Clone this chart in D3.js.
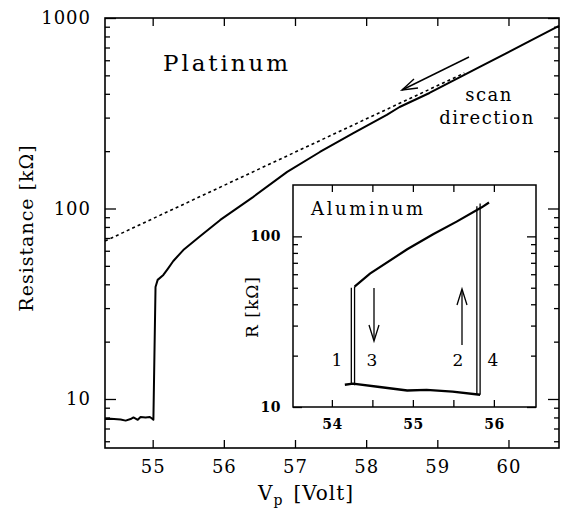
<!DOCTYPE html>
<html>
<head>
<meta charset="utf-8">
<script src="https://cdn.jsdelivr.net/npm/d3@7"></script>
<style>
  body { margin: 0; background: #fff; }
  text { font-family: "DejaVu Serif", serif; fill: #000; }
</style>
</head>
<body>
<div id="chart"></div>
<script>
// Platinum sweep: probe voltage [V] and resistance [kOhm]
const ptVolt = [54.33, 54.41, 54.55, 54.62, 54.69, 54.73, 54.79, 54.83, 54.90, 54.96, 54.99, 55.01,
                55.04, 55.07, 55.15, 55.21, 55.29, 55.43, 55.67, 55.95, 56.41, 56.89, 57.35, 57.82,
                58.29, 58.47, 58.89, 59.59, 60.29, 60.71];
const ptRes = [7.85, 7.87, 7.8, 7.7, 7.85, 8.0, 7.78, 8.05, 8.0, 8.05, 7.9, 7.78,
               38.7, 42.2, 44.8, 48.1, 53, 60.5, 71.8, 87.1, 114.8, 155.6, 198, 249,
               310, 341, 404, 552, 753, 910];
// straight (exponential) extrapolation, dotted
const fitVolt = [54.33, 59.38];
const fitRes = [67.5, 514];

// Aluminum inset
const alLowVolt = [54.16, 54.26, 54.59, 54.93, 55.17, 55.49, 55.83];
const alLowRes = [13.5, 13.7, 13.1, 12.5, 12.6, 12.3, 11.8];
const alUpVolt = [54.28, 54.47, 54.93, 55.25, 55.54, 55.85, 55.94];
const alUpRes = [50.8, 60.5, 84, 103, 122, 148, 158];
const alJumpVolt = [54.24, 54.28, 55.79, 55.83];
const alJumpLo = [13.6, 13.4, 11.9, 11.8];
const alJumpHi = [50, 50.8, 150, 156];

const mainXTicks = [55, 56, 57, 58, 59, 60];
const mainYTicks = [10, 100, 1000];
const insetXTicks = [54, 55, 56];
const insetXMinor = [54.5, 55.5];
const insetYTicks = [10, 100];

const W = 561, H = 512;
const svg = d3.select("#chart").append("svg")
  .attr("width", W).attr("height", H);

// log minor ticks between lo and hi
function minorTicks(lo, hi) {
  let out = [];
  for (let e = Math.floor(Math.log10(lo)); e <= Math.ceil(Math.log10(hi)); e++) {
    for (let k = 2; k <= 9; k++) {
      const v = k * Math.pow(10, e);
      if (v > lo && v < hi) out.push(v);
    }
  }
  return out;
}

// ---------- main panel ----------
const x = d3.scaleLinear().domain([54.33, 60.71]).range([105, 559]);
const y = d3.scaleLog().domain([5.53, 1000]).range([448, 18]);

const fmt = d => d;
function tickAxis(axis, g, len, labels) {
  g.call(axis.tickSizeInner(-len).tickSizeOuter(0).tickPadding(labels ? 12 : 0)
      .tickFormat(labels ? fmt : ""));
  g.select(".domain").remove();
  g.selectAll("line").attr("stroke", "#000").attr("stroke-width", 1.3);
}

const mainAx = svg.append("g");
let g;
g = mainAx.append("g").attr("transform", "translate(0,448)");
tickAxis(d3.axisBottom(x).tickValues(mainXTicks), g, 8, true);
g.selectAll("text").attr("font-size", 18).attr("letter-spacing", 1).attr("dy", "0.72em");
g = mainAx.append("g").attr("transform", "translate(0,18)");
tickAxis(d3.axisTop(x).tickValues(mainXTicks), g, 8, false);

g = mainAx.append("g").attr("transform", "translate(105,0)");
tickAxis(d3.axisLeft(y).tickValues(mainYTicks), g, 11, true);
g.selectAll("text").attr("font-size", 18).attr("letter-spacing", 1).attr("dx", -2);
g = mainAx.append("g").attr("transform", "translate(105,0)");
tickAxis(d3.axisLeft(y).tickValues(minorTicks(5.53, 1000)), g, 5, false);
g = mainAx.append("g").attr("transform", "translate(559,0)");
tickAxis(d3.axisRight(y).tickValues(mainYTicks), g, 11, false);
g = mainAx.append("g").attr("transform", "translate(559,0)");
tickAxis(d3.axisRight(y).tickValues(minorTicks(5.53, 1000)), g, 5, false);

svg.append("rect").attr("x", 105).attr("y", 18).attr("width", 454).attr("height", 430)
  .attr("fill", "none").attr("stroke", "#000").attr("stroke-width", 1.6);

const line = d3.line().x(d => x(d[0])).y(d => y(d[1]));
svg.append("path").datum(d3.zip(fitVolt, fitRes)).attr("d", line)
  .attr("fill", "none").attr("stroke", "#000").attr("stroke-width", 1.6)
  .attr("stroke-dasharray", "3,3");
svg.append("path").datum(d3.zip(ptVolt, ptRes)).attr("d", line)
  .attr("fill", "none").attr("stroke", "#000").attr("stroke-width", 2)
  .attr("stroke-linejoin", "round");

// labels of main panel
svg.append("text").attr("x", 163).attr("y", 71).attr("font-size", 23)
  .attr("textLength", 125).attr("lengthAdjust", "spacing").text("Platinum");
svg.append("text").attr("x", 489).attr("y", 101).attr("font-size", 18)
  .attr("text-anchor", "middle").attr("letter-spacing", 1.5).text("scan");
svg.append("text").attr("x", 487).attr("y", 124).attr("font-size", 18)
  .attr("text-anchor", "middle").attr("letter-spacing", 1.5).text("direction");

// scan direction arrow
const arr = svg.append("g").attr("stroke", "#000").attr("stroke-width", 1.4).attr("fill", "none");
arr.append("line").attr("x1", 469).attr("y1", 57).attr("x2", 402).attr("y2", 90);
arr.append("path").attr("d", "M414,79 L402,90 L418,88");

svg.append("text").attr("transform", "translate(33,228) rotate(-90)")
  .attr("text-anchor", "middle").attr("font-size", 19).attr("letter-spacing", 1)
  .text("Resistance [kΩ]");
const xl = svg.append("text").attr("x", 258).attr("y", 500).attr("font-size", 20).attr("letter-spacing", 1);
xl.append("tspan").text("V");
xl.append("tspan").attr("font-size", 14).attr("dy", 5).text("p");
xl.append("tspan").attr("dy", -5).attr("dx", 10).text("[Volt]");

// ---------- inset ----------
const ix = d3.scaleLinear().domain([53.52, 56.52]).range([293, 536]);
const iy = d3.scaleLog().domain([10, 200]).range([407, 185]);

svg.append("rect").attr("x", 293).attr("y", 185).attr("width", 243).attr("height", 222)
  .attr("fill", "#fff").attr("stroke", "#000").attr("stroke-width", 1.5);

const inAx = svg.append("g");
g = inAx.append("g").attr("transform", "translate(0,407)");
tickAxis(d3.axisBottom(ix).tickValues(insetXTicks), g, 7, true);
g.selectAll("text").attr("font-size", 14).attr("font-weight", "bold").attr("dy", "0.72em").attr("letter-spacing", 0.5);
g = inAx.append("g").attr("transform", "translate(0,407)");
tickAxis(d3.axisBottom(ix).tickValues(insetXMinor), g, 7, false);
g = inAx.append("g").attr("transform", "translate(0,185)");
tickAxis(d3.axisTop(ix).tickValues(insetXTicks.concat(insetXMinor)), g, 7, false);

g = inAx.append("g").attr("transform", "translate(293,0)");
tickAxis(d3.axisLeft(iy).tickValues(insetYTicks), g, 9, true);
g.selectAll("text").attr("font-size", 14).attr("font-weight", "bold").attr("letter-spacing", 0.5);
g = inAx.append("g").attr("transform", "translate(293,0)");
tickAxis(d3.axisLeft(iy).tickValues(minorTicks(10, 200)), g, 5, false);
g = inAx.append("g").attr("transform", "translate(536,0)");
tickAxis(d3.axisRight(iy).tickValues(insetYTicks), g, 9, false);
g = inAx.append("g").attr("transform", "translate(536,0)");
tickAxis(d3.axisRight(iy).tickValues(minorTicks(10, 200)), g, 5, false);

const iline = d3.line().x(d => ix(d[0])).y(d => iy(d[1]));
svg.append("path").datum(d3.zip(alLowVolt, alLowRes)).attr("d", iline)
  .attr("fill", "none").attr("stroke", "#000").attr("stroke-width", 2.4);
svg.append("path").datum(d3.zip(alUpVolt, alUpRes)).attr("d", iline)
  .attr("fill", "none").attr("stroke", "#000").attr("stroke-width", 2.2);
svg.append("g").selectAll("line").data(d3.zip(alJumpVolt, alJumpLo, alJumpHi)).join("line")
  .attr("x1", d => ix(d[0])).attr("x2", d => ix(d[0]))
  .attr("y1", d => iy(d[1])).attr("y2", d => iy(d[2]))
  .attr("stroke", "#000").attr("stroke-width", 1.3);

svg.append("text").attr("x", 311).attr("y", 215).attr("font-size", 18)
  .attr("textLength", 112).attr("lengthAdjust", "spacing").text("Aluminum");

// numbered branches and sweep arrows
[["1", 337], ["3", 372], ["2", 458], ["4", 493]].forEach(([t, px]) => {
  svg.append("text").attr("x", px).attr("y", 366).attr("font-size", 17)
    .attr("text-anchor", "middle").text(t);
});
const ia = svg.append("g").attr("stroke", "#000").attr("stroke-width", 1.3).attr("fill", "none");
ia.append("line").attr("x1", 374).attr("y1", 288).attr("x2", 374).attr("y2", 340);
ia.append("path").attr("d", "M369,325 L374,341 L379,325");
ia.append("line").attr("x1", 462).attr("y1", 345).attr("x2", 462).attr("y2", 290);
ia.append("path").attr("d", "M457,305 L462,289 L467,305");

svg.append("text").attr("transform", "translate(258,307) rotate(-90)")
  .attr("text-anchor", "middle").attr("font-size", 17).attr("letter-spacing", 1).text("R [kΩ]");
</script>
</body>
</html>
